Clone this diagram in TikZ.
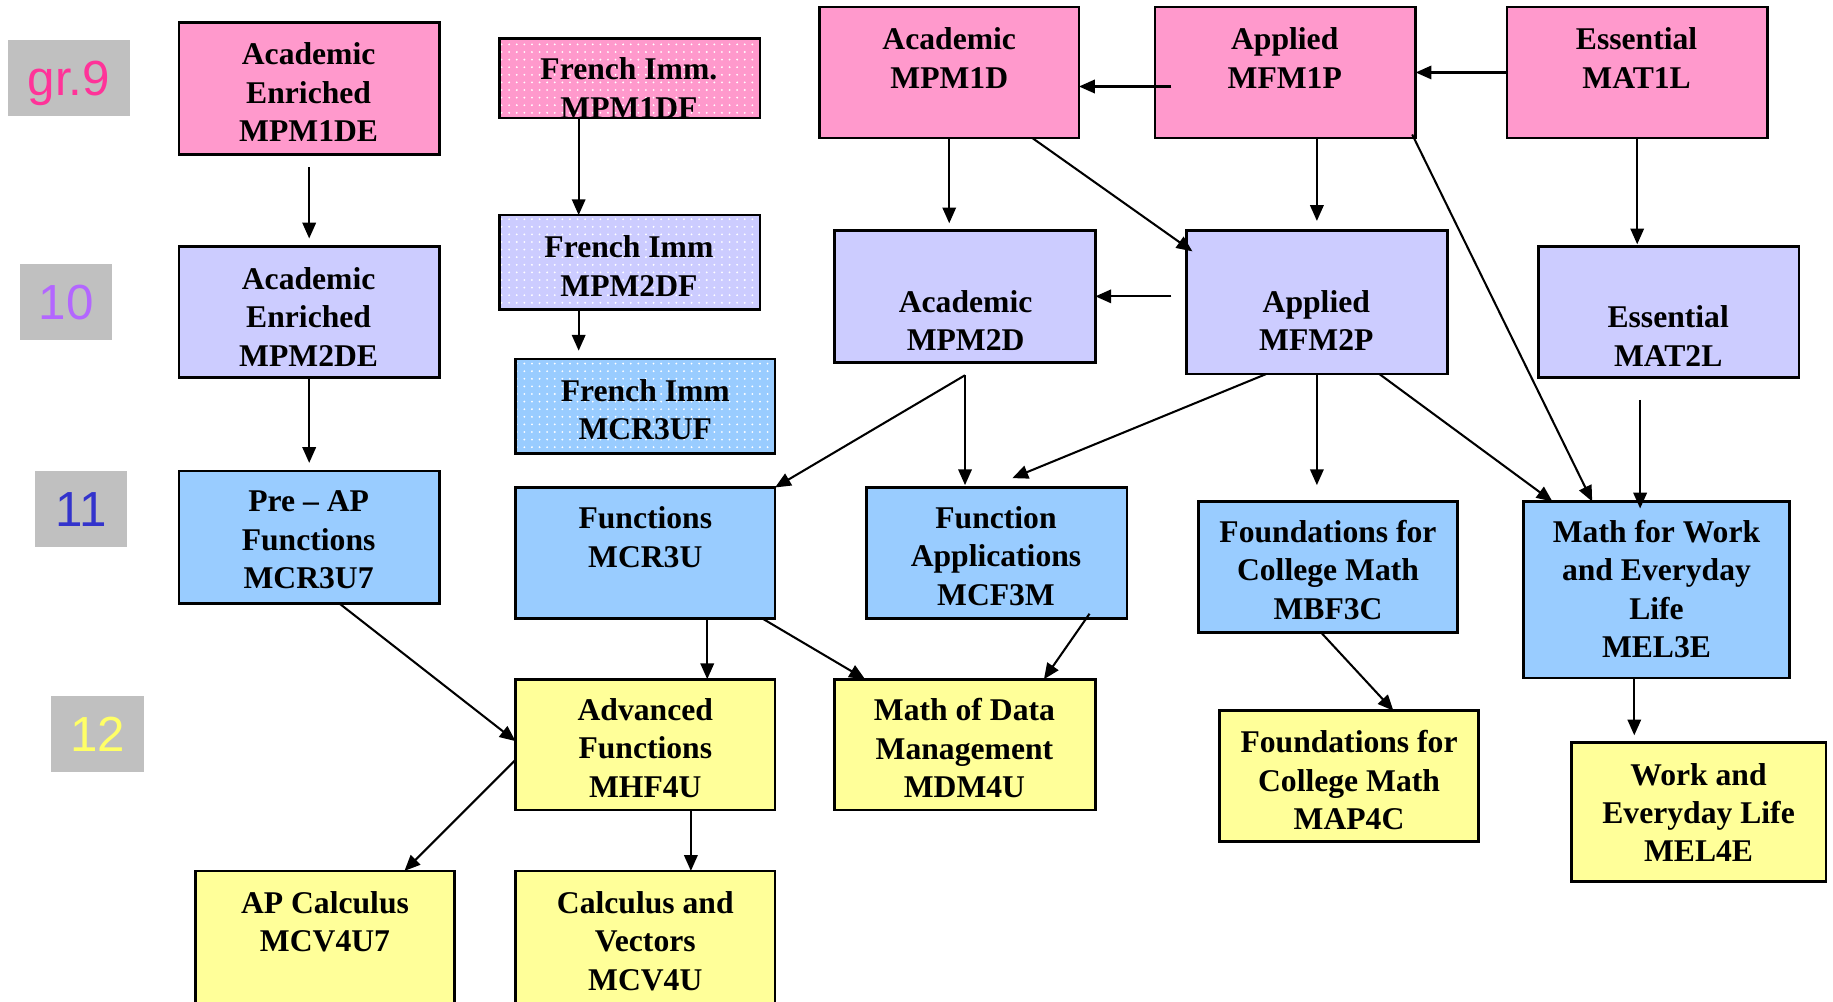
\documentclass[tikz,border=0pt]{standalone}
\usepackage{fontspec}
\setmainfont{Liberation Serif}
\newfontfamily\gradefont{Liberation Sans}
\usetikzlibrary{arrows.meta,patterns.meta}
\definecolor{cpink}{HTML}{FF99CC}
\definecolor{clav}{HTML}{CCCCFF}
\definecolor{cblue}{HTML}{99CCFF}
\definecolor{cyel}{HTML}{FFFF99}
\definecolor{cgrey}{HTML}{C0C0C0}
\definecolor{gnine}{HTML}{FF3399}
\definecolor{gten}{HTML}{B366FF}
\definecolor{geleven}{HTML}{3333CC}
\definecolor{gtwelve}{HTML}{FFFF66}
\tikzset{
  crs/.style={rectangle, draw=black, line width=1.3pt, inner sep=0pt, outer sep=0pt},
  dotfill/.style={postaction={pattern={Dots[distance=3.7pt,radius=0.5pt]}, pattern color=white},
                  postaction={draw=black, line width=1.3pt}},
  txt/.style={font=\fontsize{15.4}{18.7}\selectfont\bfseries, align=center, inner sep=0pt},
  grade/.style={rectangle, fill=cgrey, inner sep=0pt, font=\gradefont\fontsize{24}{28}\selectfont,
                text height=17.2pt, text depth=0pt},
  arr/.style={line width=1pt, -{Triangle[length=0.27cm,width=0.23cm]}},
}
\newcommand{\crsbox}[6]{\node[crs,#6,minimum width={(#4-#2)*0.02cm},minimum height={(#5-#3)*0.02cm}] (#1) at ({(#2+#4)/2},{(#3+#5)/2}) {};}
\newcommand{\grbox}[7]{\node[grade,text=#6,minimum width={(#4-#2)*0.02cm},minimum height={(#5-#3)*0.02cm}] (#1) at ({(#2+#4)/2},{(#3+#5)/2}) {#7};}
\begin{document}
\begin{tikzpicture}[x=0.02cm,y=-0.02cm]
\useasboundingbox (0,0) rectangle (1568,857.1);
\clip (0,0) rectangle (1568,857.1);
% grade labels
\grbox{g9}{7}{34}{111}{99}{gnine}{gr.9}
\grbox{g10}{17}{226}{96}{291}{gten}{10}
\grbox{g11}{30}{403}{109}{468}{geleven}{11}
\grbox{g12}{44}{595}{123}{660}{gtwelve}{12}
% grade 9
\crsbox{aen1}{153}{19}{376}{132}{fill=cpink}
\crsbox{fr1}{427}{33}{650}{101}{fill=cpink,dotfill}
\crsbox{aca1}{701}{6}{923}{118}{fill=cpink}
\crsbox{app1}{988}{6}{1211}{118}{fill=cpink}
\crsbox{ess1}{1289}{6}{1512}{118}{fill=cpink}
% grade 10
\crsbox{aen2}{153}{211}{376}{323}{fill=clav}
\crsbox{fr2}{427}{184}{650}{265}{fill=clav,dotfill}
\crsbox{fr3}{441}{307}{663}{388}{fill=cblue,dotfill}
\crsbox{aca2}{714}{197}{937}{310}{fill=clav}
\crsbox{app2}{1015}{197}{1238}{320}{fill=clav}
\crsbox{ess2}{1316}{211}{1539}{323}{fill=clav}
% grade 11
\crsbox{preap}{153}{403}{376}{516}{fill=cblue}
\crsbox{fun}{441}{417}{663}{529}{fill=cblue}
\crsbox{fap}{741}{417}{964}{529}{fill=cblue}
\crsbox{fcm3}{1025}{429}{1247}{541}{fill=cblue}
\crsbox{mwe3}{1303}{429}{1531}{580}{fill=cblue}
% grade 12
\crsbox{adv}{441}{581}{663}{693}{fill=cyel}
\crsbox{mdm}{714}{581}{937}{693}{fill=cyel}
\crsbox{fcm4}{1043}{608}{1265}{720}{fill=cyel}
\crsbox{wel4}{1344}{635}{1562}{754}{fill=cyel}
\crsbox{apc}{167}{745}{389}{900}{fill=cyel}
\crsbox{cav}{441}{745}{663}{900}{fill=cyel}
% texts
\node[txt] (taen1) at (264,79) {Academic\\Enriched\\MPM1DE};
\node[txt] (tfr1) at (538,75.5) {French Imm.\\MPM1DF};
\node[txt] (taca1) at (812,49.5) {Academic\\MPM1D};
\node[txt] (tapp1) at (1099,49.5) {Applied\\MFM1P};
\node[txt] (tess1) at (1400,49.5) {Essential\\MAT1L};
\node[txt] (taen2) at (264,271) {Academic\\Enriched\\MPM2DE};
\node[txt] (tfr2) at (538,227.5) {French Imm\\MPM2DF};
\node[txt] (tfr3) at (552,350.5) {French Imm\\MCR3UF};
\node[txt] (taca2) at (826,274) {Academic\\MPM2D};
\node[txt] (tapp2) at (1126,274) {Applied\\MFM2P};
\node[txt] (tess2) at (1427,287.5) {Essential\\MAT2L};
\node[txt] (tpreap) at (264,462) {Pre -- AP\\Functions\\MCR3U7};
\node[txt] (tfun) at (552,459.5) {Functions\\MCR3U};
\node[txt] (tfap) at (852,475.5) {Function\\Applications\\MCF3M};
\node[txt] (tfcm3) at (1136,487.5) {Foundations for\\College Math\\MBF3C};
\node[txt] (tmwe3) at (1417,504) {Math for Work\\and Everyday\\Life\\MEL3E};
\node[txt] (tadv) at (552,640) {Advanced\\Functions\\MHF4U};
\node[txt] (tmdm) at (825,640) {Math of Data\\Management\\MDM4U};
\node[txt] (tfcm4) at (1154,667.5) {Foundations for\\College Math\\MAP4C};
\node[txt] (twel4) at (1453,695) {Work and\\Everyday Life\\MEL4E};
\node[txt] (tapc) at (278,788.5) {AP Calculus\\MCV4U7};
\node[txt] (tcav) at (552,805) {Calculus and\\Vectors\\MCV4U};
% connectors
\draw[arr, shorten <=0.22cm, shorten >=0.14cm] (aen1.south) -- (aen2.north);
\draw[arr, shorten >=0.14cm] (aen2.south) -- (preap.north);
\draw[arr] ([xshift=-0.87cm]fr1.south) -- ([xshift=-0.87cm]fr2.north);
\draw[arr, shorten >=0.14cm] ([xshift=-0.87cm]fr2.south) -- ([xshift=-0.87cm]fr2.south |- fr3.north);
\draw[arr] ([xshift=0.28cm,yshift=-0.24cm]app1.west) -- ([yshift=-0.24cm]aca1.east);
\draw[arr] (ess1.west) -- (app1.east |- ess1.west);
\draw[arr, shorten >=0.12cm] (aca1.south) -- (aca1.south |- aca2.north);
\draw[arr] ([xshift=1.42cm]aca1.south) -- ([xshift=0.1cm,yshift=-0.36cm]app2.north west);
\draw[arr, shorten >=0.16cm] (app2.north |- app1.south) -- (app2.north);
\draw[arr] ([xshift=-0.06cm,yshift=0.06cm]app1.south east) -- ([xshift=-1.1cm]mwe3.north);
\draw[arr, shorten >=0.04cm] (ess1.south) -- (ess1.south |- ess2.north);
\draw[arr, shorten <=0.26cm] (app2.west |- aca2.east) -- (aca2.east);
\draw[arr] ([yshift=-0.22cm]aca2.south) -- (fun.north east);
\draw[arr, shorten >=0.04cm] ([yshift=-0.22cm]aca2.south) -- (aca2.south |- fap.north);
\draw[arr] ([xshift=-0.87cm]app2.south) -- ([xshift=0.27cm,yshift=0.16cm]fap.north);
\draw[arr, shorten >=0.28cm] (app2.south) -- (app2.south |- fcm3.north);
\draw[arr] ([xshift=1.07cm]app2.south) -- ([xshift=0.5cm]mwe3.north west);
\draw[arr, shorten <=0.38cm, shorten >=-0.12cm] ([xshift=-0.49cm]ess2.south) -- ([xshift=-0.49cm]ess2.south |- mwe3.north);
\draw[arr] ([xshift=0.51cm]preap.south) -- ([yshift=0.06cm]adv.west);
\draw[arr] ([xshift=1.06cm]fun.south) -- ([xshift=1.06cm]fun.south |- adv.north);
\draw[arr] ([xshift=-0.22cm]fun.south east) -- ([xshift=0.52cm]mdm.north west);
\draw[arr] ([xshift=-0.64cm,yshift=0.08cm]fap.south east) -- ([xshift=-0.88cm]mdm.north east);
\draw[arr] ([xshift=-0.12cm]fcm3.south) -- ([xshift=0.76cm]fcm4.north);
\draw[arr, shorten >=0.12cm] ([xshift=-0.38cm]mwe3.south) -- ([xshift=-0.38cm]mwe3.south |- wel4.north);
\draw[arr] ([yshift=-0.26cm]adv.west) -- ([xshift=1.36cm]apc.north);
\draw[arr] ([xshift=0.78cm]adv.south) -- ([xshift=0.78cm]adv.south |- cav.north);
\end{tikzpicture}
\end{document}
